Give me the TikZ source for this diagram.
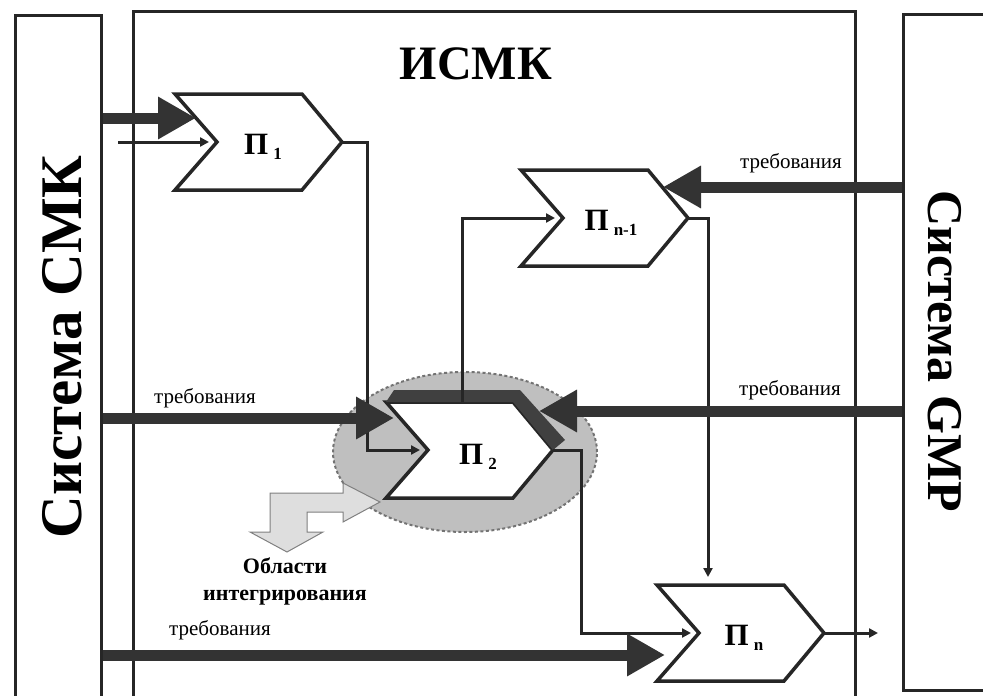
\documentclass[tikz,border=0pt]{standalone}
\usepackage{fontspec}
\setmainfont{Liberation Serif}
\usetikzlibrary{arrows.meta,shapes.geometric}
\newcommand{\psub}[1]{\hspace{5pt}{\fontsize{17}{17}\selectfont\raisebox{-5pt}{#1}}}

\begin{document}
\begin{tikzpicture}[
		x=1pt, y=-1pt,
		sysbox/.style={
				draw=black!85,
				line width=3pt,
				inner sep=0pt,
			},
		proc/.style={
				draw=black!85,
				fill=white,
				line width=3.5pt,
			},
		zone/.style={
				ellipse,
				fill=black!25,
				draw=black!55,
				line width=2pt,
				dash pattern=on 3pt off 2.5pt,
			},
		pointer/.style={
				fill=black!13,
				draw=black!50,
				line width=1pt,
			},
		link/.style={
				draw=black!85,
				line width=3pt,
				-{Triangle[length=9pt,width=9pt]},
				shorten >=8pt,
			},
		feed/.style={
				draw=black!80,
				line width=11pt,
				-{Triangle[length=38pt,width=40pt]},
			},
		req/.style={font=\fontsize{21}{21}\selectfont, inner sep=0pt},
		plbl/.style={font=\bfseries\fontsize{31}{31}\selectfont, inner sep=0pt},
	]

	\clip (0,0) rectangle (983,696);

	% systems
	\node[sysbox, minimum width=86pt, minimum height=700pt] (smk) at (58,365) {};
	\node[sysbox, minimum width=722pt, minimum height=700pt] (ismk) at (494,361) {};
	\node[sysbox, minimum width=92pt, minimum height=676pt] (gmp) at (949,352) {};
	\node[font=\bfseries\fontsize{59}{59}\selectfont, rotate=90] (smkname) at (62,347) {Система СМК};
	\node[font=\bfseries\fontsize{50}{50}\selectfont, rotate=-90] (gmpname) at (945,351) {Система GMP};
	\node[font=\bfseries\fontsize{48}{48}\selectfont] (title) at (476,64) {ИСМК};

	% integration area
	\node[zone, minimum width=264pt, minimum height=160pt] (area) at (465,452) {};
	\draw[pointer] (380,502) -- (343,483) -- (343,493) -- (270,493) -- (270,532) -- (250,532)
		-- (287,552) -- (323,532) -- (307,532) -- (307,512) -- (343,512) -- (343,522) -- cycle;
	\node[font=\bfseries\fontsize{22}{27}\selectfont, align=center] (areaname) at (285,581) {Области\\интегрирования};

	% processes
	\begin{scope}[shift={(175,94)}]
		\draw[proc] (0,0) -- (127,0) -- (167,48) -- (127,96) -- (0,96) -- (42,48) -- cycle;
		\coordinate (P1in) at (42,48);
		\coordinate (P1out) at (167,48);
		\coordinate (P1feed) at (21,24);
		\node[plbl] (P1) at (88,53) {П\psub{1}};
	\end{scope}
	\begin{scope}[shift={(521,170)}]
		\draw[proc] (0,0) -- (127,0) -- (167,48) -- (127,96) -- (0,96) -- (42,48) -- cycle;
		\coordinate (Pn1in) at (42,48);
		\coordinate (Pn1out) at (167,48);
		\coordinate (Pn1feed) at (142,17);
		\node[plbl] (Pn1) at (90,53) {П\psub{n-1}};
	\end{scope}
	\begin{scope}[shift={(386,402)}]
		\draw[proc] (0,0) -- (127,0) -- (167,48) -- (127,96) -- (0,96) -- (42,48) -- cycle;
		\fill[black!75] (8,-12) -- (134,-12) -- (179,38) -- (167,48) -- (127,0) -- (0,0) -- cycle;
		\coordinate (P2in) at (42,48);
		\coordinate (P2out) at (167,48);
		\coordinate (P2top) at (76,0);
		\coordinate (P2feedL) at (8,16);
		\coordinate (P2feedR) at (153,9);
		\node[plbl] (P2) at (92,55) {П\psub{2}};
	\end{scope}
	\begin{scope}[shift={(657,585)}]
		\draw[proc] (0,0) -- (127,0) -- (167,48) -- (127,96) -- (0,96) -- (42,48) -- cycle;
		\coordinate (Pnin) at (42,48);
		\coordinate (Pnout) at (167,48);
		\coordinate (Pntop) at (51,0);
		\coordinate (Pnfeed) at (8,70);
		\node[plbl] (Pn) at (87,53) {П\psub{n}};
	\end{scope}

	% flows
	\coordinate (P1src) at (118,142);
	\coordinate (Pnexit) at (886,633);
	\draw[link] (P1src) -- (P1in);
	\draw[link] (P1out) -- ++(25,0) |- (P2in);
	\draw[link] (P2top) |- (Pn1in);
	\draw[link] (Pn1out) -| (Pntop);
	\draw[link] (P2out) -- ++(28,0) |- (Pnin);
	\draw[link] (Pnout) -- (Pnexit);

	\draw[feed] (smk.east |- P1feed) -- (P1feed);
	\draw[feed] (smk.east |- P2feedL) -- (P2feedL);
	\draw[feed] (smk.east |- Pnfeed) -- (Pnfeed);
	\draw[feed] (gmp.west |- Pn1feed) -- (Pn1feed);
	\draw[feed] (gmp.west |- P2feedR) -- (P2feedR);

	\node[req] (req1) at (791,163) {требования};
	\node[req] (req2) at (790,390) {требования};
	\node[req] (req3) at (205,398) {требования};
	\node[req] (req4) at (220,630) {требования};
\end{tikzpicture}
\end{document}
